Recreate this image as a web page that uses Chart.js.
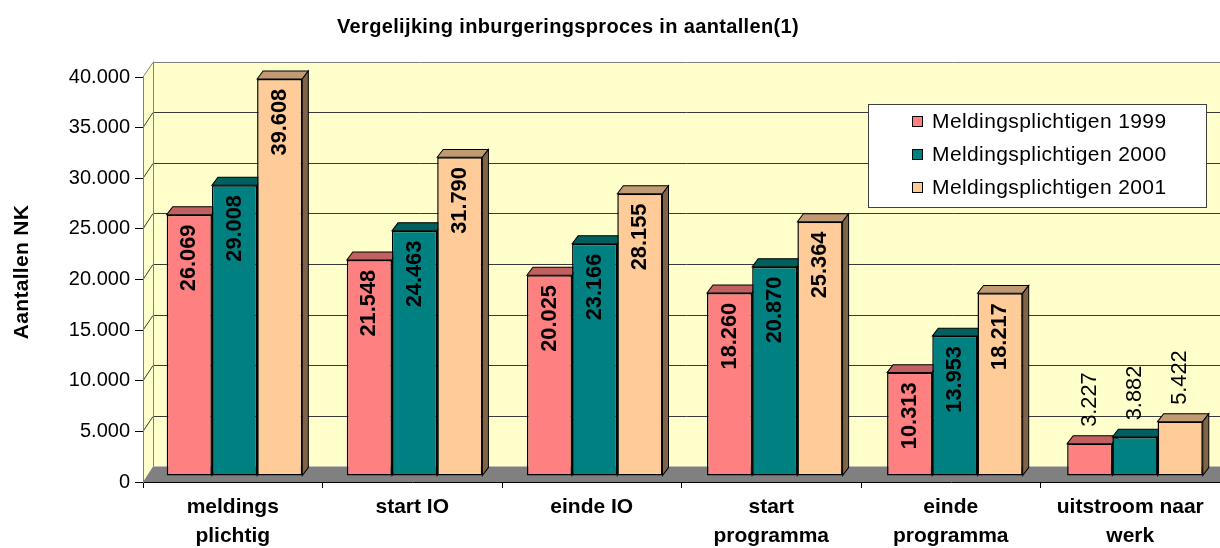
<!DOCTYPE html>
<html>
<head>
<meta charset="utf-8">
<script src="https://cdn.jsdelivr.net/npm/chart.js@4/dist/chart.umd.min.js"></script>
<style>
  body { margin: 0; background: #fff; }
  #wrap { width: 1220px; height: 548px; }
</style>
</head>
<body>
<div id="wrap"><canvas id="c" width="1220" height="548"></canvas></div>
<script>
// data
const categories = [["meldings", "plichtig"], "start IO", "einde IO", ["start", "programma"], ["einde", "programma"], ["uitstroom naar", "werk"]]
const seriesNames = ["Meldingsplichtigen 1999", "Meldingsplichtigen 2000", "Meldingsplichtigen 2001"]
const s1999 = [26069, 21548, 20025, 18260, 10313, 3227]
const s2000 = [29008, 24463, 23166, 20870, 13953, 3882]
const s2001 = [39608, 31790, 28155, 25364, 18217, 5422]
const yMin = 0, yMax = 40000, yStep = 5000

const FONT = "'Liberation Sans', Arial, sans-serif"
const frontCol = ["#FF8080", "#008080", "#FFCC99"]
const topCol = ["#C06060", "#006060", "#C09A73"]
const sideCol = ["#804040", "#004040", "#806448"]

// thousands with a dot, like the Dutch original
const fmt = (v) => String(v).replace(/\B(?=(\d{3})+(?!\d))/g, ".")

// back wall offset and bar depth (pseudo 3D)
const WALL = { dx: 10, dy: -15.5 }
const BAR = { dx: 6, dy: -8 }
// bars sit a little behind the front axis plane
const PLANE = { sx: 1.0033, tx: 0.98, sy: 0.9901, ty: -1.24 }

const walls = {
  id: "walls",
  beforeDraw(chart) {
    const { ctx, chartArea: a, scales: { y } } = chart
    const W = chart.width
    ctx.save()
    // back wall + side wall
    ctx.fillStyle = "#FFFFCC"
    ctx.fillRect(a.left + WALL.dx, a.top + WALL.dy, W - a.left, a.bottom - a.top)
    ctx.beginPath()
    ctx.moveTo(a.left, a.top)
    ctx.lineTo(a.left + WALL.dx, a.top + WALL.dy)
    ctx.lineTo(a.left + WALL.dx, a.bottom + WALL.dy)
    ctx.lineTo(a.left, a.bottom)
    ctx.closePath()
    ctx.fill()

    // gridlines on the back wall, running down the side wall
    ctx.lineWidth = 1
    y.ticks.forEach(t => {
      if (t.value <= yMin) return
      const py = y.getPixelForValue(t.value)
      const by = Math.round(py + WALL.dy) + 0.5
      ctx.strokeStyle = t.value >= yMax ? "#808080" : "#3a3a3a"
      ctx.beginPath()
      ctx.moveTo(a.left, py)
      ctx.lineTo(a.left + WALL.dx, by)
      ctx.lineTo(W, by)
      ctx.stroke()
    })
    ctx.strokeStyle = "#808080"
    ctx.beginPath()
    ctx.moveTo(a.left + WALL.dx + 0.5, a.top + WALL.dy)
    ctx.lineTo(a.left + WALL.dx + 0.5, a.bottom + WALL.dy)
    ctx.stroke()

    // floor
    ctx.fillStyle = "#808080"
    ctx.beginPath()
    ctx.moveTo(a.left, a.bottom)
    ctx.lineTo(a.left + WALL.dx, a.bottom + WALL.dy)
    ctx.lineTo(W + WALL.dx, a.bottom + WALL.dy)
    ctx.lineTo(a.right, a.bottom)
    ctx.closePath()
    ctx.fill()

    // titles
    ctx.fillStyle = "#000"
    ctx.font = "bold 20px " + FONT
    ctx.letterSpacing = "0.35px"
    ctx.textAlign = "center"
    ctx.textBaseline = "alphabetic"
    ctx.fillText("Vergelijking inburgeringsproces in aantallen(1)", 568, 33)
    ctx.translate(22, 272)
    ctx.rotate(-Math.PI / 2)
    ctx.font = "bold 21px " + FONT
    ctx.letterSpacing = "0.3px"
    ctx.textBaseline = "middle"
    ctx.fillText("Aantallen NK", 0, 0)
    ctx.restore()
  },

  beforeDatasetsDraw(chart) {
    const ctx = chart.ctx
    ctx.save()
    ctx.transform(PLANE.sx, 0, 0, PLANE.sy, PLANE.tx, PLANE.ty)
    // draw left to right so each front face hides the neighbour's side face
    chart.data.datasets.forEach((ds, i) => {
      chart.getDatasetMeta(i).data.forEach(el => {
        el.draw(ctx)
        const { x, y, base, width } = el.getProps(["x", "y", "base", "width"], true)
        const L = x - width / 2, R = x + width / 2
        ctx.lineWidth = 1
        ctx.strokeStyle = "#000"
        ctx.fillStyle = topCol[i]
        ctx.beginPath()
        ctx.moveTo(L, y)
        ctx.lineTo(L + BAR.dx, y + BAR.dy)
        ctx.lineTo(R + BAR.dx, y + BAR.dy)
        ctx.lineTo(R, y)
        ctx.closePath()
        ctx.fill(); ctx.stroke()
        ctx.fillStyle = sideCol[i]
        ctx.beginPath()
        ctx.moveTo(R, y)
        ctx.lineTo(R + BAR.dx, y + BAR.dy)
        ctx.lineTo(R + BAR.dx, base + BAR.dy)
        ctx.lineTo(R, base)
        ctx.closePath()
        ctx.fill(); ctx.stroke()
      })
    })

    // value labels, rotated
    ctx.fillStyle = "#000"
    chart.data.datasets.forEach((ds, i) => {
      chart.getDatasetMeta(i).data.forEach((el, j) => {
        const { x, y, base } = el.getProps(["x", "y", "base"], true)
        const txt = fmt(ds.data[j])
        ctx.save()
        ctx.font = "bold 22px " + FONT
        const w = ctx.measureText(txt).width
        const inside = base - y > w + 20
        ctx.translate(x, inside ? y + 10 : y - 17)
        ctx.rotate(-Math.PI / 2)
        ctx.textBaseline = "middle"
        if (inside) {
          ctx.textAlign = "right"
        } else {
          ctx.font = "22px " + FONT
          ctx.textAlign = "left"
        }
        ctx.fillText(txt, 0, 0)
        ctx.restore()
      })
    })
    ctx.restore()
    return false
  },

  afterDraw(chart) {
    const ctx = chart.ctx
    ctx.save()
    // legend box
    ctx.fillStyle = "#fff"
    ctx.fillRect(868, 104, 339, 104)
    ctx.strokeStyle = "#404040"
    ctx.lineWidth = 1
    ctx.strokeRect(868.5, 104.5, 338, 103)
    ctx.font = "21px " + FONT
    ctx.letterSpacing = "0.4px"
    ctx.textBaseline = "middle"
    ctx.textAlign = "left"
    chart.data.datasets.forEach((ds, i) => {
      const cy = 121 + i * 33
      ctx.fillStyle = ds.backgroundColor
      ctx.fillRect(912, cy - 5, 10, 10)
      ctx.strokeStyle = "#000"
      ctx.strokeRect(912.5, cy - 4.5, 10, 10)
      ctx.fillStyle = "#000"
      ctx.fillText(ds.label, 932, cy + 1)
    })
    ctx.restore()
  }
}

const datasets = [s1999, s2000, s2001].map((d, i) => ({
  label: seriesNames[i],
  data: d,
  backgroundColor: frontCol[i],
  borderColor: "#000",
  borderWidth: 1.5,
  borderSkipped: false,
  categoryPercentage: 0.753,
  barPercentage: 1
}))

new Chart(document.getElementById("c"), {
  type: "bar",
  data: { labels: categories, datasets },
  plugins: [walls],
  options: {
    responsive: false,
    animation: false,
    layout: { padding: { top: 77, left: 0, right: 0, bottom: 0 } },
    plugins: {
      legend: { display: false },
      title: { display: false },
      tooltip: { enabled: false }
    },
    scales: {
      x: {
        grid: { display: true, drawOnChartArea: false, tickLength: 6, color: "#000", offset: true },
        border: { display: true, color: "#000" },
        ticks: {
          color: "#000",
          padding: 5,
          maxRotation: 0,
          autoSkip: false,
          font: { family: FONT, size: 21, weight: "bold", lineHeight: 1.38 }
        },
        afterFit: (s) => { s.height = 66 }
      },
      y: {
        min: yMin,
        max: yMax,
        grid: { drawOnChartArea: false, tickLength: 8, color: "#000" },
        border: { display: true, color: "#808080" },
        ticks: {
          stepSize: yStep,
          color: "#000",
          padding: 5,
          font: { family: FONT, size: 20 },
          callback: (v) => fmt(v)
        },
        afterFit: (s) => { s.width = 143 }
      }
    }
  }
})
</script>
</body>
</html>
